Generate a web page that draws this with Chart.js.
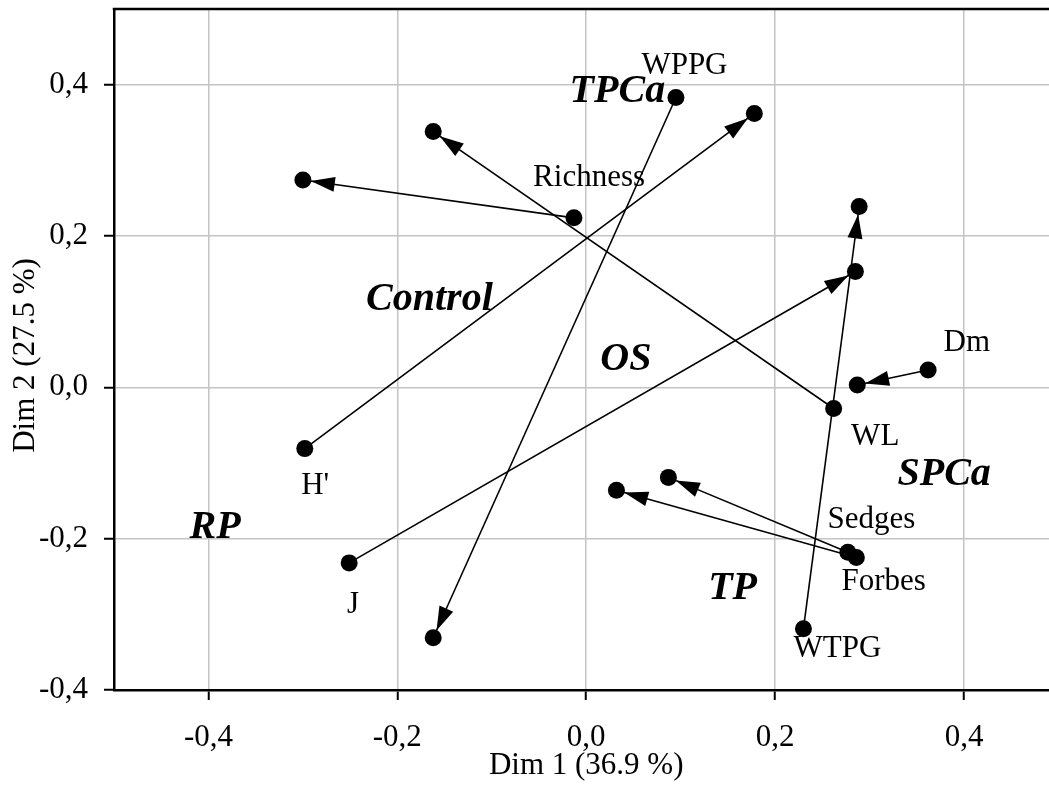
<!DOCTYPE html>
<html><head><meta charset="utf-8">
<script src="https://cdn.jsdelivr.net/npm/chart.js@4.4.1/dist/chart.umd.min.js"></script>
<style>
html,body{margin:0;padding:0;overflow:hidden;background:#fff;}
#wrap{position:relative;width:1049px;height:796px;}
canvas{display:block;}
</style></head><body>
<div id="wrap"><canvas id="c" width="1049" height="796" style="width:1049px;height:796px;"></canvas></div>
<script>
// Variables (arrow start = labelled point, arrow end = arrowhead point)
const variables = ['Richness', 'WL', "H'", 'WPPG', 'J', 'WTPG', 'Dm', 'Sedges', 'Forbes'];
const startX = [-0.013, 0.262, -0.298, 0.095, -0.251, 0.230, 0.362, 0.277, 0.286];
const startY = [0.224, -0.028, -0.081, 0.383, -0.232, -0.319, 0.023, -0.218, -0.225];
const endX   = [-0.300, -0.162, 0.178, -0.162, 0.285, 0.289, 0.287, 0.087, 0.032];
const endY   = [0.274, 0.338, 0.362, -0.331, 0.153, 0.239, 0.003, -0.119, -0.136];
// Variable label anchors (data units)
const labelX = [0.003, 0.306, -0.287, 0.104, -0.247, 0.266, 0.403, 0.302, 0.315];
const labelY = [0.277, -0.066, -0.130, 0.425, -0.288, -0.346, 0.059, -0.175, -0.257];
// Treatment group labels (data units)
const groups = ['TPCa', 'Control', 'OS', 'SPCa', 'RP', 'TP'];
const groupX = [0.033, -0.166, 0.042, 0.379, -0.393, 0.155];
const groupY = [0.391, 0.116, 0.036, -0.116, -0.186, -0.266];
// Axis ticks and titles
const xTicks = [-0.4, -0.2, 0.0, 0.2, 0.4];
const yTicks = [-0.4, -0.2, 0.0, 0.2, 0.4];
const xTitle = 'Dim 1 (36.9 %)';
const yTitle = 'Dim 2 (27.5 %)';

const FONT = '"Liberation Serif", "Times New Roman", serif';
const fmt = v => Number(v).toFixed(1).replace('.', ',');

const datasets = [];
variables.forEach((name, i) => {
  datasets.push({
    type: 'line',
    label: name,
    data: [{x: startX[i], y: startY[i]}, {x: endX[i], y: endY[i]}],
    borderColor: '#000',
    borderWidth: 1.6,
    pointRadius: 0,
    fill: false,
    showLine: true
  });
});
const dots = [];
variables.forEach((n, i) => {
  dots.push({x: startX[i], y: startY[i]});
  dots.push({x: endX[i], y: endY[i]});
});
datasets.push({
  type: 'scatter',
  label: 'points',
  data: dots,
  backgroundColor: '#000',
  borderColor: '#000',
  borderWidth: 0,
  pointRadius: 8.5,
  pointHoverRadius: 8.5
});

const decor = {
  id: 'decor',
  afterDatasetsDraw(chart) {
    const ctx = chart.ctx, xs = chart.scales.x, ys = chart.scales.y, ca = chart.chartArea;
    ctx.save();
    // arrowheads
    ctx.fillStyle = '#000';
    variables.forEach((n, i) => {
      const x0 = xs.getPixelForValue(startX[i]), y0 = ys.getPixelForValue(startY[i]);
      const x1 = xs.getPixelForValue(endX[i]), y1 = ys.getPixelForValue(endY[i]);
      const len = Math.hypot(x1 - x0, y1 - y0);
      const dx = (x1 - x0) / len, dy = (y1 - y0) / len;
      const r = 8, L = 24, w = 7.5;
      const tx = x1 - dx * r, ty = y1 - dy * r;
      const bx = tx - dx * L, by = ty - dy * L;
      ctx.beginPath();
      ctx.moveTo(tx, ty);
      ctx.lineTo(bx - dy * w, by + dx * w);
      ctx.lineTo(bx + dy * w, by - dx * w);
      ctx.closePath();
      ctx.fill();
    });
    // variable labels
    ctx.textAlign = 'center';
    ctx.textBaseline = 'middle';
    ctx.font = '31px ' + FONT;
    variables.forEach((n, i) => {
      ctx.fillText(n, xs.getPixelForValue(labelX[i]), ys.getPixelForValue(labelY[i]));
    });
    // group labels
    ctx.font = 'italic bold 40px ' + FONT;
    groups.forEach((g, i) => {
      ctx.fillText(g, xs.getPixelForValue(groupX[i]), ys.getPixelForValue(groupY[i]));
    });
    // top frame line
    ctx.strokeStyle = '#000';
    ctx.lineWidth = 2.5;
    ctx.beginPath();
    ctx.moveTo(ca.left - 1.25, ca.top);
    ctx.lineTo(ca.right, ca.top);
    ctx.stroke();
    // axis titles
    ctx.font = '31px ' + FONT;
    ctx.fillStyle = '#000';
    ctx.fillText(xTitle, xs.getPixelForValue(0), ca.bottom + 76);
    ctx.translate(26, (ca.top + ca.bottom) / 2 + 6);
    ctx.rotate(-Math.PI / 2);
    ctx.fillText(yTitle, 0, 0);
    ctx.restore();
  }
};

new Chart(document.getElementById('c'), {
  data: { datasets },
  options: {
    responsive: false,
    animation: false,
    events: [],
    layout: { autoPadding: false, padding: { top: 9, right: 0, left: 0, bottom: 0 } },
    plugins: { legend: { display: false }, tooltip: { enabled: false } },
    scales: {
      x: {
        type: 'linear',
        min: -0.5, max: 0.49,
        afterBuildTicks: s => { s.ticks = xTicks.map(v => ({value: v})); },
        afterFit: s => { s.height = 106; s.paddingLeft = 0; s.paddingRight = 0; },
        ticks: { callback: fmt, color: '#000', font: { family: FONT, size: 31 }, padding: 19, maxRotation: 0, autoSkip: false },
        grid: { color: '#c4c4c4', lineWidth: 1.5, tickColor: '#000', tickLength: 10, tickWidth: 2 },
        border: { color: '#000', width: 2.5 }
      },
      y: {
        type: 'linear',
        min: -0.4, max: 0.5,
        afterBuildTicks: s => { s.ticks = yTicks.map(v => ({value: v})); },
        afterFit: s => { s.width = 114; s.paddingTop = 0; s.paddingBottom = 0; },
        ticks: { callback: fmt, color: '#000', font: { family: FONT, size: 31 }, padding: 16, autoSkip: false },
        grid: { color: '#c4c4c4', lineWidth: 1.5, tickColor: '#000', tickLength: 10, tickWidth: 2 },
        border: { color: '#000', width: 2.5 }
      }
    }
  },
  plugins: [decor]
});
</script>
</body></html>
